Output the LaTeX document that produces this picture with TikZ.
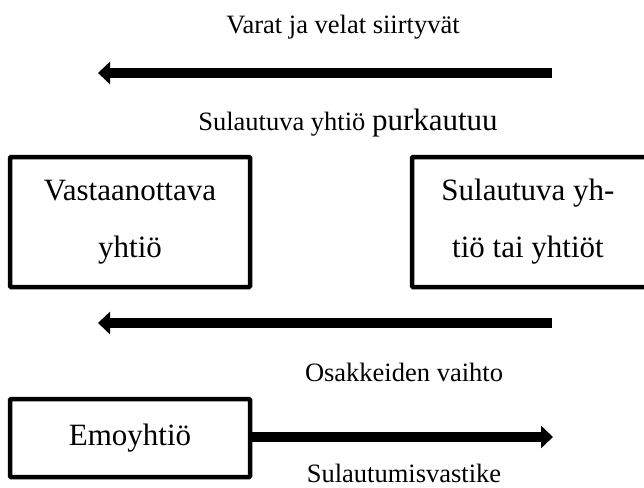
\documentclass[tikz,border=0pt]{standalone}
\usepackage{fontspec}
\setmainfont{Liberation Serif}
\usetikzlibrary{arrows.meta}
\tikzset{
  boxnode/.style={draw=black, line width=4.5pt, rounded corners=1pt, inner sep=0pt, align=center,
    font=\fontsize{31}{57}\selectfont},
  lbl/.style={inner sep=0pt, font=\fontsize{26.5}{30}\selectfont},
  fatarrow/.style={line width=10pt, -{Triangle[width=22pt,length=12pt]}}
}
\begin{document}
\begin{tikzpicture}[x=1pt,y=1pt]
\useasboundingbox (0,0) rectangle (644,-487);
% top
\node[lbl] (varat) at (343,-27) {Varat ja velat siirtyvät};
\coordinate (a1s) at (552,-73);
\coordinate (a1e) at (98,-73);
\draw[fatarrow] (a1s) -- (a1e);
\node[lbl, anchor=base] (purk) at (348,-130) {Sulautuva yhtiö {\fontsize{31}{34}\selectfont purkautuu}};
% boxes
\node[boxnode, minimum width=240pt, minimum height=130pt] (vast) at (130,-222)
  {Vastaanottava\\yhtiö};
\node[boxnode, minimum width=240pt, minimum height=130pt] (sul) at (532,-222)
  {\hspace*{-8pt}Sulautuva yh-\\\hspace*{-8pt}tiö tai yhtiöt};
\coordinate (a2s) at (552,-323);
\coordinate (a2e) at (98,-323);
\draw[fatarrow] (a2s) -- (a2e);
\node[lbl] (osak) at (404,-372) {Osakkeiden vaihto};
\node[boxnode, minimum width=240pt, minimum height=78pt] (emo) at (130,-438) {Emoyhtiö};
\coordinate (a3e) at (553,-437);
\draw[fatarrow] (emo.east |- a3e) -- (a3e);
\node[lbl] (vast2) at (404,-473) {Sulautumisvastike};
\end{tikzpicture}
\end{document}
